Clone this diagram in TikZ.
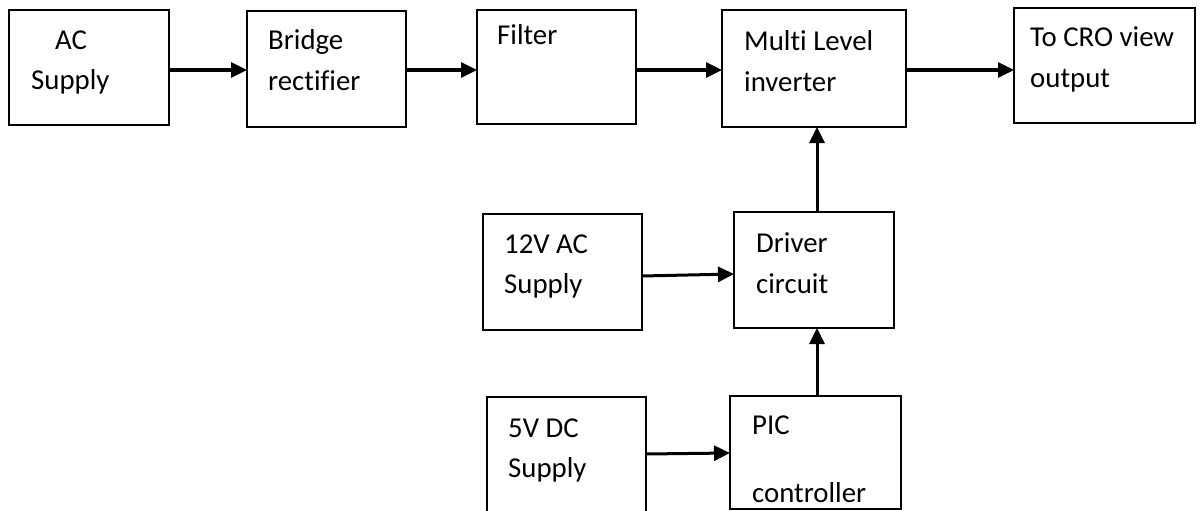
\documentclass[tikz,border=0pt]{standalone}
\usepackage{fontspec}
\setmainfont{Carlito}[RawFeature={-liga;-clig;-dlig}]
\usetikzlibrary{arrows.meta}
\tikzset{
  box/.style={draw=black, line width=2pt, inner sep=0pt, outer sep=0pt, anchor=north west},
  lbl/.style={anchor=base west, inner sep=0pt, font=\fontsize{28.8pt}{40pt}\selectfont},
  arr/.style={line width=3pt, -{Triangle[length=16pt,width=15pt]}}
}
\begin{document}
\begin{tikzpicture}[x=1pt,y=-1pt]
\useasboundingbox (0,0) rectangle (1204,511);
\clip (0,0) rectangle (1204,511);
% boxes
\node[box, minimum width=160pt, minimum height=115pt] (ac) at (9,10) {};
\node[box, minimum width=159pt, minimum height=116pt] (br) at (247,11) {};
\node[box, minimum width=159pt, minimum height=114pt] (fi) at (477,10) {};
\node[box, minimum width=184pt, minimum height=117pt] (ml) at (722,10) {};
\node[box, minimum width=181pt, minimum height=115pt] (cro) at (1014,8) {};
\node[box, minimum width=159pt, minimum height=116pt] (v12) at (483,214) {};
\node[box, minimum width=160pt, minimum height=116pt] (dr) at (734,212) {};
\node[box, minimum width=159pt, minimum height=130pt] (v5) at (487,397) {};
\node[box, minimum width=171pt, minimum height=113pt] (pic) at (730,396) {};
% texts
\node[lbl] (acA) at (55,49) {AC};
\node[lbl] (acB) at (31,89) {Supply};
\node[lbl] (brA) at (268,49) {Bridge};
\node[lbl] (brB) at (268,90) {rectif\kern0pt ier};
\node[lbl] (fiA) at (497,45) {Filter};
\node[lbl] (mlA) at (744,51) {Mult\kern0pt i Level};
\node[lbl] (mlB) at (744,91) {inverter};
\node[lbl] (croA) at (1030,47) {To CRO view};
\node[lbl] (croB) at (1030,87) {output};
\node[lbl] (v12A) at (504,253) {12V AC};
\node[lbl] (v12B) at (504,293) {Supply};
\node[lbl] (drA) at (756,252) {Driver};
\node[lbl] (drB) at (756,293) {circuit};
\node[lbl] (v5A) at (508,437) {5V DC};
\node[lbl] (v5B) at (508,477) {Supply};
\node[lbl] (picA) at (752,434) {PIC};
\node[lbl] (picB) at (752,502) {controller};
% connectors
\draw[arr] ([yshift=-2.5pt]ac.east) -- ([yshift=-2.5pt]ac.east -| br.west);
\draw[arr] ([yshift=-1pt]br.east) -- ([yshift=-1pt]br.east -| fi.west);
\draw[arr] ([yshift=-3pt]fi.east) -- ([yshift=-3pt]fi.east -| ml.west);
\draw[arr] ([yshift=-1.5pt]ml.east) -- ([yshift=-1.5pt]ml.east -| cro.west);
\draw[arr] ([xshift=3pt]dr.north) -- ([xshift=3pt]dr.north |- ml.south);
\draw[arr] ([yshift=-4pt]v12.east) -- ([yshift=-2pt]v12.east -| dr.west);
\draw[arr] ([yshift=-57pt]v5.north east) -- ([yshift=-56pt]v5.north east -| pic.west);
\draw[arr] ([xshift=1.5pt]pic.north) -- ([xshift=1.5pt]pic.north |- dr.south);
\end{tikzpicture}
\end{document}
